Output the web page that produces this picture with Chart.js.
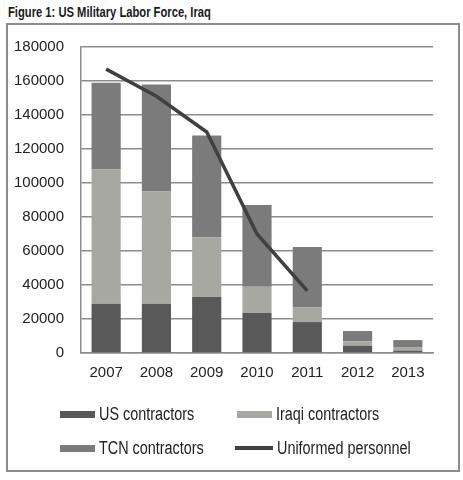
<!DOCTYPE html>
<html>
<head>
<meta charset="utf-8">
<script src="https://cdn.jsdelivr.net/npm/chart.js@4.4.1/dist/chart.umd.min.js"></script>
<style>
  body { margin: 0; background: #fff; font-family: "Liberation Sans", Arial, sans-serif; color: #222; }
  #wrap { position: relative; width: 463px; height: 480px; overflow: hidden; }
  #title { position: absolute; left: 8px; top: 4px; font-weight: bold; font-size: 14px; color: #1a1a1a;
           white-space: nowrap; transform: scaleX(0.8); transform-origin: left top; }
  #frame { position: absolute; left: 6px; top: 23px; width: 450px; height: 445px; border: 2px solid #8c8c8c; }
  #chart { position: absolute; left: 0; top: 0; }
  #legend { position: absolute; left: 60px; top: 401px; font-size: 18px; }
  .item { position: absolute; white-space: nowrap; height: 24px; line-height: 24px; }
  .sw { display: inline-block; vertical-align: middle; margin-right: 4px; }
  .txt { display: inline-block; vertical-align: middle; transform: scaleX(0.8); transform-origin: left center; }
</style>
</head>
<body>
<div id="wrap">
  <div id="title">Figure 1: US Military Labor Force, Iraq</div>
  <div id="frame"></div>
  <canvas id="chart" width="463" height="480"></canvas>
  <div id="legend"></div>
</div>
<script>
// data
const years = ["2007", "2008", "2009", "2010", "2011", "2012", "2013"];
const usContractors = [29000, 29000, 33000, 23500, 18200, 4300, 1400];
const iraqiContractors = [79000, 66000, 35000, 15500, 8800, 2600, 2100];
const tcnContractors = [51000, 63000, 60000, 48000, 35400, 6000, 4100];
const uniformed = [167000, 151000, 130000, 70000, 36500, null, null];
const yTicks = [0, 20000, 40000, 60000, 80000, 100000, 120000, 140000, 160000, 180000];

const fontFamily = '"Liberation Sans", Arial, sans-serif';

const chart = new Chart(document.getElementById("chart"), {
    type: "bar",
    data: {
        labels: years,
        datasets: [
            { type: "line", label: "Uniformed personnel", data: uniformed, borderColor: "#404040", borderWidth: 3.5,
              pointRadius: 0, tension: 0, order: 0, spanGaps: false },
            { label: "US contractors", data: usContractors, backgroundColor: "#595959", order: 1 },
            { label: "Iraqi contractors", data: iraqiContractors, backgroundColor: "#a8a8a3", order: 1 },
            { label: "TCN contractors", data: tcnContractors, backgroundColor: "#7b7b7b", order: 1 }
        ]
    },
    options: {
        responsive: false,
        animation: false,
        layout: { padding: { top: 47, right: 30, left: 0, bottom: 0 } },
        plugins: { legend: { display: false }, tooltip: { enabled: false } },
        datasets: { bar: { categoryPercentage: 1, barPercentage: 0.58 } },
        scales: {
            x: {
                stacked: true,
                grid: { display: false, drawTicks: false },
                border: { display: true, color: "#8c8c8c", width: 1.5 },
                ticks: { color: "#222", font: { family: fontFamily, size: 15 }, padding: 11 },
                afterFit: function (scale) { scale.height = 127; }
            },
            y: {
                stacked: true,
                min: 0,
                max: 180000,
                afterBuildTicks: function (scale) { scale.ticks = yTicks.map(v => ({ value: v })); },
                grid: { color: "#8c8c8c", lineWidth: 1.5, drawTicks: false },
                border: { display: true, color: "#8c8c8c", width: 1.5 },
                ticks: { color: "#222", font: { family: fontFamily, size: 15 }, padding: 17,
                         callback: function (v) { return String(v); } },
                afterFit: function (scale) { scale.width = 81; }
            }
        }
    }
});

// two-column legend like the original
const legend = document.getElementById("legend");
const legendOrder = [1, 2, 3, 0];
legendOrder.forEach(function (idx, i) {
    const ds = chart.data.datasets[idx];
    const item = document.createElement("div");
    item.className = "item";
    item.style.left = (i % 2 === 0 ? 0 : 177) + "px";
    item.style.top = (i < 2 ? 0 : 34) + "px";
    const sw = document.createElement("span");
    sw.className = "sw";
    if (ds.type === "line") {
        sw.style.width = "38px";
        sw.style.height = "4px";
        sw.style.marginLeft = "-2px";
        sw.style.background = ds.borderColor;
    } else {
        sw.style.width = "35px";
        sw.style.height = "7px";
        sw.style.background = ds.backgroundColor;
    }
    const txt = document.createElement("span");
    txt.className = "txt";
    txt.textContent = ds.label;
    item.appendChild(sw);
    item.appendChild(txt);
    legend.appendChild(item);
});
</script>
</body>
</html>
